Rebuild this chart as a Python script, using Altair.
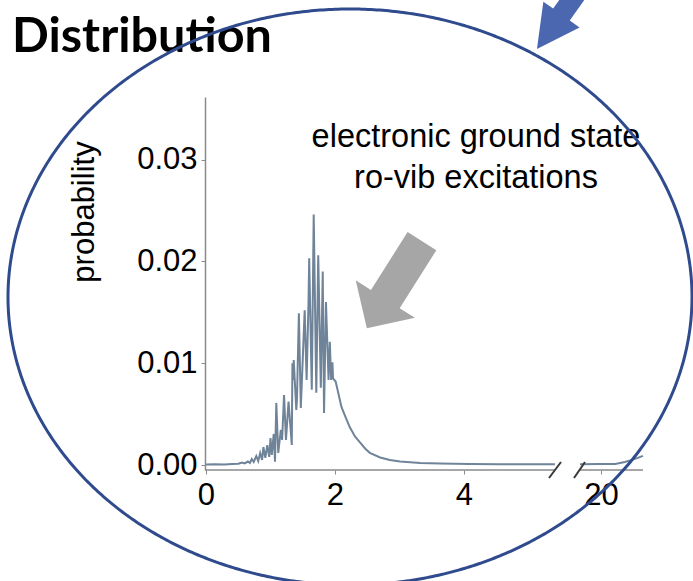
import altair as alt
import pandas as pd
import numpy as np

# ---- data ----
x_low = [0.00, 0.14, 0.29, 0.40, 0.50, 0.56, 0.60, 0.65, 0.68, 0.71, 0.74, 0.78, 0.81, 0.84,
         0.87, 0.89, 0.92, 0.95, 0.98, 1.00, 1.02, 1.05, 1.07, 1.09, 1.12, 1.16, 1.18, 1.21,
         1.24, 1.28, 1.33, 1.34, 1.35, 1.36, 1.40, 1.41, 1.44, 1.47, 1.51, 1.53, 1.56, 1.59,
         1.60, 1.64, 1.67, 1.71, 1.74, 1.78, 1.81, 1.83, 1.86, 1.90, 1.92, 1.94, 1.96, 1.97,
         2.01, 2.05, 2.10, 2.17, 2.23, 2.31, 2.39, 2.47, 2.54, 2.70, 2.85, 3.01, 3.32, 3.63,
         4.09, 4.56, 5.41]
p_low = [0.00005, 0.00007, 0.00005, 0.0001, 0.00012, 0.00025, 0.00015, 0.00034, 0.0002,
         0.00059, 0.0003, 0.00088, 0.0004, 0.00118, 0.0005, 0.00177, 0.0007, 0.00196, 0.0008,
         0.00265, 0.00098, 0.00305, 0.00032, 0.0061, 0.00118, 0.00344, 0.00246, 0.00688,
         0.00246, 0.00622, 0.00196, 0.0100, 0.00835, 0.0103, 0.0054, 0.0064, 0.0149, 0.0056,
         0.0120, 0.0152, 0.00835, 0.0162, 0.0203, 0.0074, 0.0246, 0.0071, 0.0206, 0.0076,
         0.0190, 0.0051, 0.0160, 0.00835, 0.0121, 0.00835, 0.0101, 0.0085, 0.0082, 0.0071,
         0.0057, 0.0046, 0.0037, 0.0028, 0.0022, 0.0016, 0.0012, 0.00074, 0.0005, 0.00034,
         0.0002, 0.00015, 0.0001, 0.00008, 0.00007]
x_high = [19.674, 19.98, 20.22, 20.37, 20.48, 20.57, 20.65]
p_high = [0.00007, 0.0001, 0.0001, 0.0003, 0.0005, 0.0007, 0.0009]

x_ticks = [0, 2, 4, 20]
y_ticks = [0.0, 0.01, 0.02, 0.03]
title_text = "Distribution"
note_lines = ["electronic ground state", "ro-vib excitations"]
y_title = "probability"

df = pd.DataFrame({
    "x": x_low + x_high,
    "p": p_low + p_high,
    "seg": ["low"] * len(x_low) + ["high"] * len(x_high),
    "i": list(range(len(x_low) + len(x_high))),
})

W, H = 438, 373
FONT = "Liberation Sans"

xscale = alt.Scale(domain=[-0.0155, 5.411, 19.674, 20.651], range=[0, 350, 375, 438],
                   nice=False, zero=False)
yscale = alt.Scale(domain=[-0.000491, 0.03615], nice=False, zero=False)

line = alt.Chart(df).mark_line(color="#6F8499", strokeWidth=2).encode(
    x=alt.X("x:Q", scale=xscale, title=None,
            axis=alt.Axis(values=x_ticks, domain=False, grid=False, tickSize=4,
                          tickColor="#8a8a8a", labelFont=FONT, labelFontSize=31,
                          labelColor="black", labelPadding=6, format="d",
                          labelFlush=False, labelOverlap=False)),
    y=alt.Y("p:Q", scale=yscale, title=None,
            axis=alt.Axis(values=y_ticks, format=".2f", grid=False, tickSize=4,
                          tickColor="#8a8a8a", domainColor="#8a8a8a", domainWidth=1.5,
                          labelFont=FONT, labelFontSize=31, labelColor="black",
                          labelPadding=4, labelFlush=False, labelOverlap=False)),
    detail="seg:N",
    order="i:Q",
)

one = pd.DataFrame({"a": [0]})

axis_left = alt.Chart(one).mark_rule(color="#8a8a8a", strokeWidth=1.5).encode(
    x=alt.value(0), x2=alt.value(350), y=alt.value(H))
axis_right = alt.Chart(one).mark_rule(color="#8a8a8a", strokeWidth=1.5).encode(
    x=alt.value(375), x2=alt.value(438), y=alt.value(H))
brk1 = alt.Chart(one).mark_rule(color="#3a3a3a", strokeWidth=2).encode(
    x=alt.value(344), x2=alt.value(356), y=alt.value(381), y2=alt.value(365))
brk2 = alt.Chart(one).mark_rule(color="#3a3a3a", strokeWidth=2).encode(
    x=alt.value(369), x2=alt.value(380), y=alt.value(381), y2=alt.value(365))

ylab = alt.Chart(one).mark_text(text=y_title, font=FONT, fontSize=31, angle=270,
                                align="center", baseline="alphabetic", color="black").encode(
    x=alt.value(-111), y=alt.value(115))

note = alt.Chart(one).mark_text(text=note_lines, font=FONT, fontSize=32.5, lineHeight=41,
                                align="center", baseline="alphabetic", color="black").encode(
    x=alt.value(271), y=alt.value(50))

title = alt.Chart(one).mark_text(text=title_text, font="Lato", fontWeight="bold", fontSize=48.5,
                                 align="left", baseline="alphabetic", color="black").encode(
    x=alt.value(-193), y=alt.value(-45))

# grey arrow
grey_path = "M-1,-0.33 L0.33,-0.33 L0.33,-0.68 L1,0 L0.33,0.68 L0.33,0.33 L-1,0.33 Z"
grey_arrow = alt.Chart(one).mark_point(shape=grey_path, size=10609, angle=122.35, filled=True,
                                       fill="#A6A6A6", opacity=1, strokeWidth=0).encode(
    x=alt.value(189.4), y=alt.value(187.7))

# ellipse outline
t = np.linspace(0, 2 * np.pi, 721)
ell = pd.DataFrame({"ex": 145 + 342 * np.cos(t), "ey": 200 + 288 * np.sin(t), "k": range(len(t))})
ellipse = alt.Chart(ell).mark_line(color="#2F4B8E", strokeWidth=3).encode(
    x=alt.X("ex:Q", scale=None, axis=None),
    y=alt.Y("ey:Q", scale=None, axis=None),
    order="k:Q",
)

blue_path = "M-1,-0.17 L0.295,-0.17 L0.295,-0.37 L1,0 L0.295,0.37 L0.295,0.17 L-1,0.17 Z"
blue_arrow = alt.Chart(one).mark_point(shape=blue_path, size=14400, angle=125.4, filled=True,
                                       fill="#4A67B0", opacity=1, strokeWidth=0).encode(
    x=alt.value(366.7), y=alt.value(-96.9))

chart = alt.layer(
    line, axis_left, axis_right, brk1, brk2, ylab, note, title, grey_arrow, ellipse, blue_arrow
).resolve_scale(x="independent", y="independent").properties(
    width=W, height=H,
    autosize=alt.AutoSizeParams(type="none"),
    padding={"left": 205, "top": 97, "right": 50, "bottom": 111},
    background="white",
).configure_view(stroke=None)

chart.save("out.html", embed_options={"renderer": "svg", "actions": False})
